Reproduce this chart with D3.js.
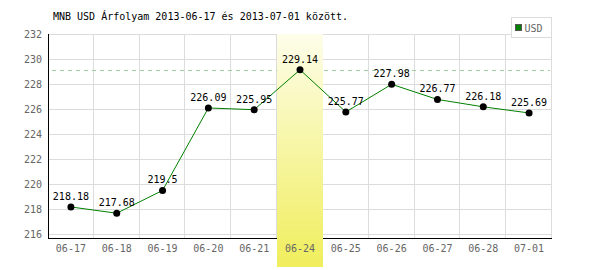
<!DOCTYPE html>
<html>
<head>
<meta charset="utf-8">
<script src="https://cdn.jsdelivr.net/npm/d3@7"></script>
<style>
  body { margin: 0; background: #fff; }
  text { font-family: "DejaVu Sans Mono", monospace; font-size: 10px; }
</style>
</head>
<body>
<div id="chart"></div>
<script>
var svgWidth = 600;
var svgHeight = 270;

// Data
var dates = ["06-17", "06-18", "06-19", "06-20", "06-21", "06-24", "06-25", "06-26", "06-27", "06-28", "07-01"];
var usdRates = [218.18, 217.68, 219.5, 226.09, 225.95, 229.14, 225.77, 227.98, 226.77, 226.18, 225.69];
var yTicks = [216, 218, 220, 222, 224, 226, 228, 230, 232];
var highlightDate = "06-24";
var chartTitle = "MNB USD Árfolyam 2013-06-17 és 2013-07-01 között.";
var seriesName = "USD";

var margin = { top: 34, right: 48, bottom: 32, left: 48 };
var width = svgWidth - margin.left - margin.right;
var height = svgHeight - margin.top - margin.bottom;

var svg = d3.select("#chart")
  .append("svg")
  .attr("width", svgWidth)
  .attr("height", svgHeight);

var defs = svg.append("defs");
var grad = defs.append("linearGradient")
  .attr("id", "hl")
  .attr("x1", 0).attr("y1", 0).attr("x2", 0).attr("y2", 1);
grad.append("stop").attr("offset", "0%").attr("stop-color", "#fdfdea");
grad.append("stop").attr("offset", "100%").attr("stop-color", "#f0ee5c");

// Title
svg.append("text")
  .attr("x", 53)
  .attr("y", 20)
  .attr("fill", "#000")
  .text(chartTitle);

var chartGroup = svg.append("g")
  .attr("transform", `translate(${margin.left}, ${margin.top})`);

var xScale = d3.scaleBand()
  .domain(dates)
  .range([0, width]);

var yScale = d3.scaleLinear()
  .domain([215.7, 232])
  .range([height, 0]);

// horizontal grid
chartGroup.selectAll("line.hgrid")
  .data(yTicks)
  .enter()
  .append("line")
  .attr("class", "hgrid")
  .attr("x1", 0)
  .attr("x2", width)
  .attr("y1", d => Math.round(yScale(d)) + 0.5)
  .attr("y2", d => Math.round(yScale(d)) + 0.5)
  .attr("stroke", "#dcdcdc");

// vertical grid at band edges
chartGroup.selectAll("line.vgrid")
  .data(dates)
  .enter()
  .append("line")
  .attr("class", "vgrid")
  .attr("x1", d => Math.round(xScale(d) + xScale.bandwidth()) - 0.5)
  .attr("x2", d => Math.round(xScale(d) + xScale.bandwidth()) - 0.5)
  .attr("y1", 0)
  .attr("y2", height)
  .attr("stroke", "#dcdcdc");

// max dashed line
var maxRate = d3.max(usdRates);
chartGroup.append("line")
  .attr("x1", 4)
  .attr("x2", width - 2)
  .attr("y1", Math.round(yScale(maxRate)) + 0.5)
  .attr("y2", Math.round(yScale(maxRate)) + 0.5)
  .attr("stroke", "#9fcf9f")
  .attr("stroke-dasharray", "4,4");

// axes lines
chartGroup.append("line")
  .attr("x1", 0.5).attr("x2", 0.5)
  .attr("y1", 0).attr("y2", height)
  .attr("stroke", "#000");
chartGroup.append("line")
  .attr("x1", 0).attr("x2", width)
  .attr("y1", height + 0.5).attr("y2", height + 0.5)
  .attr("stroke", "#000");

// highlight band
chartGroup.append("rect")
  .attr("x", Math.round(xScale(highlightDate)))
  .attr("y", 0)
  .attr("width", Math.round(xScale.bandwidth()))
  .attr("height", svgHeight - margin.top - 3)
  .attr("fill", "url(#hl)");

// y tick labels
chartGroup.selectAll("text.ytick")
  .data(yTicks)
  .enter()
  .append("text")
  .attr("class", "ytick")
  .attr("x", -6)
  .attr("y", d => yScale(d))
  .attr("dy", "0.36em")
  .attr("text-anchor", "end")
  .attr("fill", "#666")
  .text(d => d);

// x tick labels
chartGroup.selectAll("text.xtick")
  .data(dates)
  .enter()
  .append("text")
  .attr("class", "xtick")
  .attr("x", d => xScale(d) + xScale.bandwidth() / 2)
  .attr("y", height + 14)
  .attr("text-anchor", "middle")
  .attr("fill", "#666")
  .text(d => d);

// line
var line = d3.line()
  .x((d, i) => xScale(dates[i]) + xScale.bandwidth() / 2)
  .y(d => yScale(d));

chartGroup.append("path")
  .datum(usdRates)
  .attr("d", line)
  .attr("fill", "none")
  .attr("stroke", "#008000")
  .attr("stroke-width", 1);

chartGroup.selectAll("circle")
  .data(usdRates)
  .enter()
  .append("circle")
  .attr("cx", (d, i) => xScale(dates[i]) + xScale.bandwidth() / 2)
  .attr("cy", d => yScale(d))
  .attr("r", 3.5)
  .attr("fill", "#000");

chartGroup.selectAll("text.val")
  .data(usdRates)
  .enter()
  .append("text")
  .attr("class", "val")
  .attr("x", (d, i) => xScale(dates[i]) + xScale.bandwidth() / 2)
  .attr("y", d => yScale(d) - 7)
  .attr("text-anchor", "middle")
  .attr("fill", "#000")
  .text(d => d);

// legend
var legend = svg.append("g")
  .attr("transform", "translate(511.5, 17.5)");
legend.append("rect")
  .attr("width", 40)
  .attr("height", 20)
  .attr("fill", "#fff")
  .attr("stroke", "#dcdcdc");
legend.append("rect")
  .attr("x", 4)
  .attr("y", 7)
  .attr("width", 6)
  .attr("height", 6)
  .attr("fill", "#008000")
  .attr("stroke", "#555");
legend.append("text")
  .attr("x", 13)
  .attr("y", 14)
  .attr("fill", "#666")
  .text(seriesName);
</script>
</body>
</html>
